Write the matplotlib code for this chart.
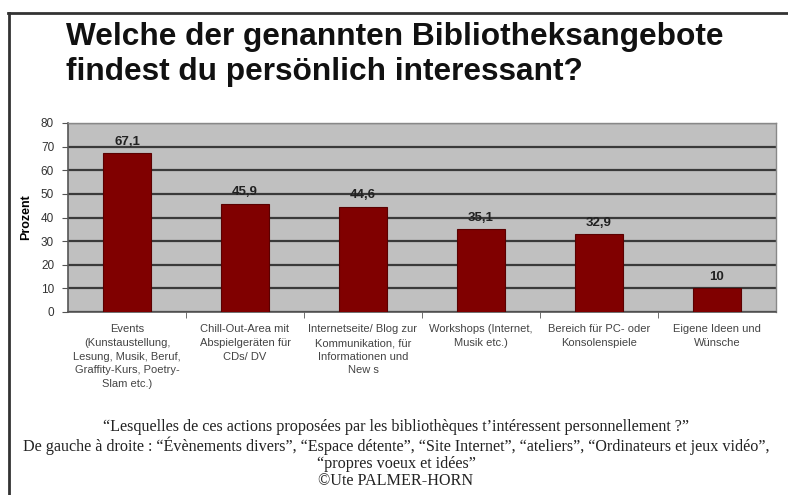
import matplotlib
matplotlib.use("Agg")
import matplotlib.pyplot as plt
from matplotlib.lines import Line2D

categories = [
    "Events\n(Kunstaustellung,\nLesung, Musik, Beruf,\nGraffity-Kurs, Poetry-\nSlam etc.)",
    "Chill-Out-Area mit\nAbspielgeräten für\nCDs/ DV",
    "Internetseite/ Blog zur\nKommunikation, für\nInformationen und\nNew s",
    "Workshops (Internet,\nMusik etc.)",
    "Bereich für PC- oder\nKonsolenspiele",
    "Eigene Ideen und\nWünsche",
]
values = [67.1, 45.9, 44.6, 35.1, 32.9, 10]
value_labels = ["67,1", "45,9", "44,6", "35,1", "32,9", "10"]
yticks = [0, 10, 20, 30, 40, 50, 60, 70, 80]

title = "Welche der genannten Bibliotheksangebote\nfindest du persönlich interessant?"
caption = ("\u201cLesquelles de ces actions proposées par les bibliothèques t\u2019intéressent personnellement ?\u201d\n"
           "De gauche à droite : \u201cÉvènements divers\u201d, \u201cEspace détente\u201d, \u201cSite Internet\u201d, "
           "\u201cateliers\u201d, \u201cOrdinateurs et jeux vidéo\u201d,\n"
           "\u201cpropres voeux et idées\u201d\n"
           "©Ute PALMER-HORN")

plt.rcParams['font.family'] = ['Liberation Sans', 'DejaVu Sans']

fig = plt.figure(figsize=(7.88, 4.95), dpi=100)
fig.patch.set_facecolor('white')

# Rahmen um die Folie
fig.add_artist(Line2D([8/788, 1.0], [1-13/495, 1-13/495], color='#333333', lw=2))
fig.add_artist(Line2D([9/788, 9/788], [0, 1-13/495], color='#333333', lw=2))

fig.text(66/788, 1-22/495, title, fontsize=22.8, fontweight='bold', va='top', ha='left',
         linespacing=1.22, color='#111111')

ax = fig.add_axes([68/788, 1-312/495, (776-68)/788, (312-123)/495])
ax.set_facecolor('#c0c0c0')
x = list(range(len(values)))
ax.bar(x, values, width=0.4, color='#800000', edgecolor='#5a0000', linewidth=0.8, zorder=3)

for xi, v, lab in zip(x, values, value_labels):
    ax.text(xi, v + 2.2, lab, ha='center', va='bottom', fontsize=9.5, fontweight='bold', color='#222222')

ax.set_xlim(-0.5, len(values) - 0.5)
ax.set_ylim(0, 80)
ax.set_yticks(yticks)
ax.set_yticklabels([str(t) for t in yticks], fontsize=8.5, color='#333333')
ax.yaxis.grid(True, color='#3a3a3a', linewidth=1.6, zorder=1)
ax.set_axisbelow(True)

ax.set_xticks(x)
ax.set_xticklabels(categories, fontsize=8, color='#444444', linespacing=1.45, va='top')
ax.tick_params(axis='x', length=0, pad=9)
ax.set_xticks([i + 0.5 for i in range(len(values) - 1)], minor=True)
ax.tick_params(axis='x', which='minor', length=4, direction='out', color='#555555')
ax.tick_params(axis='y', length=4, direction='out', color='#555555', pad=6)

for s in ['top', 'right']:
    ax.spines[s].set_color('#888888')
    ax.spines[s].set_linewidth(1)
for s in ['left', 'bottom']:
    ax.spines[s].set_color('#555555')
    ax.spines[s].set_linewidth(1.2)

ax.set_ylabel('Prozent', fontsize=9, fontweight='bold', labelpad=6)

fig.text(396/788, 1-419/495, caption, ha='center', va='top', fontsize=11.6,
         family=['Liberation Serif', 'DejaVu Serif'], linespacing=1.1, color='#222222')

fig.savefig('out.png', dpi=100)
